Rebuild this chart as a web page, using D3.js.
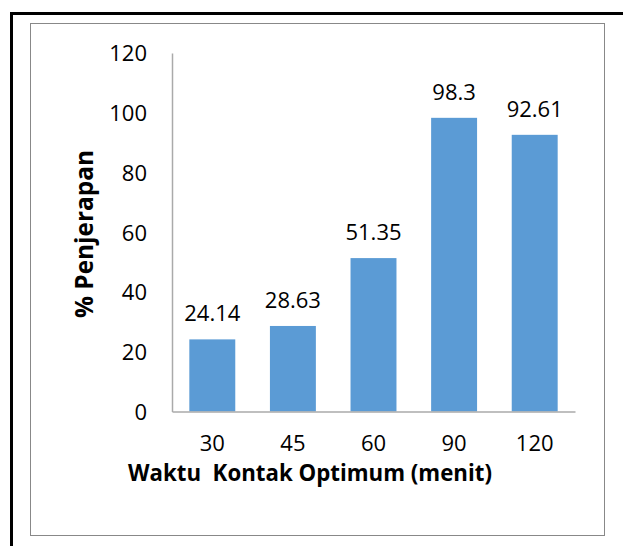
<!DOCTYPE html>
<html>
<head>
<meta charset="utf-8">
<script src="https://cdn.jsdelivr.net/npm/d3@7"></script>
<style>
  body { margin: 0; background: #fff; }
  text { font-family: "Open Sans", Lato, sans-serif; fill: #000; }
</style>
</head>
<body>
<svg id="chart"></svg>
<script>
        // chart data
        const categories = ["30", "45", "60", "90", "120"];
        const values = [24.14, 28.63, 51.35, 98.3, 92.61];
        const yTicks = [0, 20, 40, 60, 80, 100, 120];

        const width = 623, height = 546;
        const svg = d3.select('#chart')
            .attr('width', width)
            .attr('height', height);

        // outer frame (runs off right and bottom edge)
        svg.append('path')
            .attr('d', 'M11.5,' + (height + 5) + 'V13.5H' + (width + 5))
            .style('fill', 'none')
            .style('stroke', '#000')
            .style('stroke-width', 3);

        // chart area border
        svg.append('rect')
            .attr('x', 30.5).attr('y', 23.5)
            .attr('width', 574).attr('height', 512)
            .style('fill', 'none')
            .style('stroke', '#888')
            .style('stroke-width', 1);

        const plot = { left: 172, right: 575, top: 53, bottom: 411.5 };

        const x = d3.scaleBand()
            .domain(categories)
            .range([plot.left, plot.right])
            .paddingInner(0.43)
            .paddingOuter(0.215);

        const y = d3.scaleLinear()
            .domain([0, 120])
            .range([plot.bottom, plot.top]);

        // bars
        svg.selectAll('.bar')
            .data(values)
            .enter().append('rect')
            .attr('class', 'bar')
            .attr('x', (d, i) => x(categories[i]))
            .attr('y', d => y(d))
            .attr('width', x.bandwidth())
            .attr('height', d => y(0) - y(d))
            .style('fill', '#5B9BD5');

        // axes
        const yAxis = svg.append('g')
            .attr('transform', 'translate(' + plot.left + ',0)')
            .call(d3.axisLeft(y).tickValues(yTicks).tickSize(0).tickPadding(25));
        yAxis.select('.domain').style('stroke', '#aaa').style('stroke-width', 1.5);
        yAxis.selectAll('text').style('font-size', '22px').attr('dy', '0.36em');

        const xAxis = svg.append('g')
            .attr('transform', 'translate(0,' + plot.bottom + ')')
            .call(d3.axisBottom(x).tickSize(0).tickPadding(24));
        xAxis.select('.domain').style('stroke', '#aaa').style('stroke-width', 1.5);
        xAxis.selectAll('text').style('font-size', '22px');

        // value labels
        svg.selectAll('.lbl')
            .data(values)
            .enter().append('text')
            .attr('class', 'lbl')
            .attr('x', (d, i) => x(categories[i]) + x.bandwidth() / 2)
            .attr('y', d => y(d) - 18)
            .attr('text-anchor', 'middle')
            .style('font-size', '22px')
            .text(d => d);

        // axis titles, sized to the widths seen in the original
        function fitTo(sel, target) {
            const len = sel.node().getComputedTextLength();
            const fs = parseFloat(sel.style('font-size'));
            sel.style('font-size', (fs * target / len) + 'px');
        }

        const xTitle = svg.append('text')
            .attr('x', 310)
            .attr('y', 481)
            .attr('text-anchor', 'middle')
            .style('font-size', '22px')
            .style('font-weight', 'bold')
            .text('Waktu\u00a0 Kontak Optimum (menit)');
        fitTo(xTitle, 364);

        const yTitle = svg.append('text')
            .attr('transform', 'translate(93,234) rotate(-90)')
            .attr('text-anchor', 'middle')
            .style('font-size', '22px')
            .style('font-weight', 'bold')
            .text('% Penjerapan');
        fitTo(yTitle, 168);
</script>
</body>
</html>
